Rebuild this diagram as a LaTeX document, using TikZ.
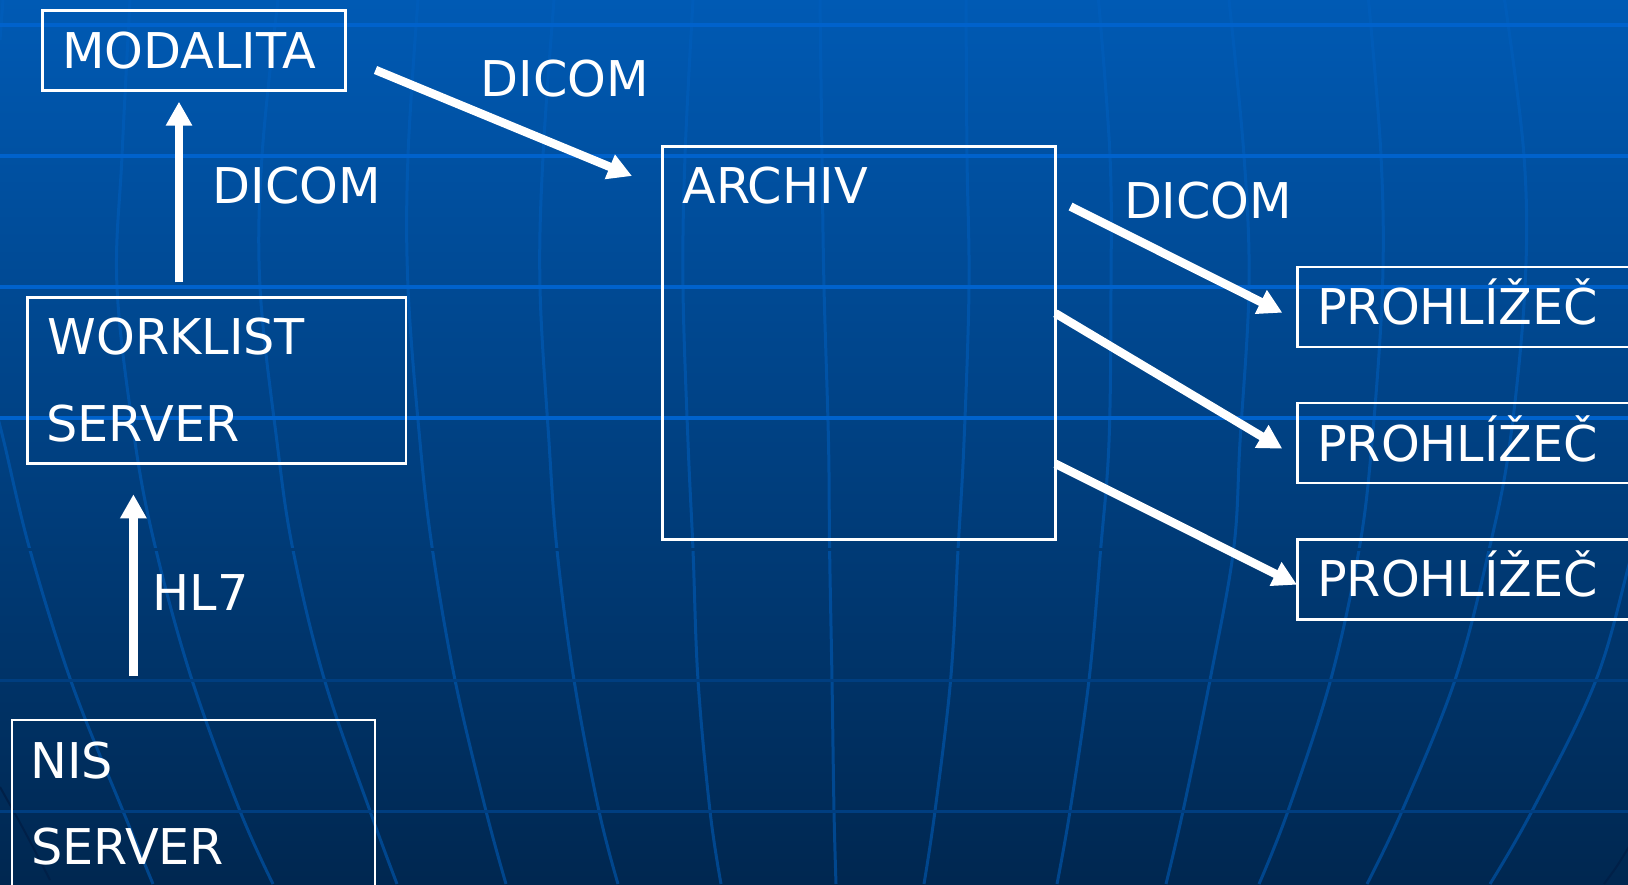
\documentclass[tikz,border=0pt]{standalone}
\usepackage{fontspec}
\setmainfont{DejaVu Sans}
\usetikzlibrary{arrows.meta}
\definecolor{bgtop}{HTML}{005AB4}
\definecolor{bgbot}{HTML}{002750}
\definecolor{seam}{HTML}{003A75}
\definecolor{gridhi}{HTML}{0062CC}
\definecolor{gridlo}{HTML}{003E80}
\definecolor{curve}{HTML}{005FBE}
\definecolor{darkcurve}{HTML}{002048}
\tikzset{
  hgridhi/.style={draw=gridhi,line width=3.4pt},
  hgridlo/.style={draw=gridlo,line width=3pt},
  vcurve/.style={draw=curve,line width=3pt,draw opacity=.55},
  fadecurve/.style={draw=darkcurve,line width=2pt},
  boxnode/.style={draw=white,line width=2.3pt,inner sep=0pt,outer sep=0pt,anchor=north west},
  labelnode/.style={text=white,inner sep=0pt,outer sep=0pt,anchor=base west,font=\fontsize{49.3}{59}\selectfont},
  bigarrow/.style={draw=white,line width=8.5pt,-{Triangle[length=24pt,width=25pt]}},
}
\begin{document}
\begin{tikzpicture}[x=1pt,y=-1pt]
\useasboundingbox (0,0) rectangle (1628,884);
\clip (0,0) rectangle (1628,884);
\shade[top color=bgtop,bottom color=bgbot] (0,0) rectangle (1628,884);
% curved meridians
\draw[vcurve] plot[smooth,tension=.6] coordinates {(3,0) (0,40)};
\draw[vcurve] plot[smooth,tension=.6] coordinates {(-3,415) (4,442) (30,550) (72,684) (123,811) (153,884)};
\draw[vcurve] plot[smooth,tension=.6] coordinates {(130,0) (122,156) (117,287) (135,442) (156,550) (192,680) (240,811) (273,884)};
\draw[vcurve] plot[smooth,tension=.6] coordinates {(278,0) (262,156) (260,287) (277,442) (293,550) (324.5,680) (370,811) (397,884)};
\draw[vcurve] plot[smooth,tension=.6] coordinates {(418,0) (408,156) (408,287) (420,442) (432.5,550) (455,680) (486,811) (506,884)};
\draw[vcurve] plot[smooth,tension=.6] coordinates {(554,0) (543,156) (540,287) (549,442) (557,550) (574,680) (599,811) (618,884)};
\draw[vcurve] plot[smooth,tension=.6] coordinates {(693,0) (685,156) (683,287) (688,442) (693,550) (698,680) (710,811) (721,884)};
\draw[vcurve] plot[smooth,tension=.6] coordinates {(820,0) (822,156) (824,287) (828.5,442) (829.6,550) (832,680) (834,811) (836,884)};
\draw[vcurve] plot[smooth,tension=.6] coordinates {(966,0) (967,156) (969,287) (964,442) (958,550) (950.6,680) (935,811) (924,884)};
\draw[vcurve] plot[smooth,tension=.6] coordinates {(1098.5,0) (1110,156) (1111,287) (1109,442) (1100.6,550) (1089,680) (1070,811) (1057,884)};
\draw[vcurve] plot[smooth,tension=.6] coordinates {(1229,0) (1244,156) (1249,287) (1240,442) (1233.5,550) (1210,680) (1183,811) (1166,884)};
\draw[vcurve] plot[smooth,tension=.6] coordinates {(1368.5,0) (1381,156) (1382.5,287) (1372,442) (1359,550) (1330.6,680) (1288,811) (1259,884)};
\draw[vcurve] plot[smooth,tension=.6] coordinates {(1504.6,0) (1524,156) (1525,287) (1510,442) (1489,550) (1455,680) (1402,811) (1367,884)};
\draw[vcurve] plot[smooth,tension=.6] coordinates {(1665,442) (1633,550) (1596,680) (1532,811) (1490,884)};
\draw[fadecurve] plot[smooth,tension=.6] coordinates {(0,787) (25,832) (50,880)};
\draw[fadecurve] plot[smooth,tension=.6] coordinates {(1630,845) (1617,866) (1604,884)};
% parallels
\draw[hgridhi] (0,25) -- (1628,25);
\draw[hgridhi] (0,156) -- (1628,156);
\draw[hgridhi] (0,287) -- (1628,287);
\draw[hgridhi] (0,418) -- (1628,418);
\draw[draw=seam,line width=3pt] (0,549.5) -- (1628,549.5);
\draw[hgridlo] (0,680) -- (1628,680);
\draw[hgridlo] (0,811) -- (1628,811);
% boxes
\node[boxnode,minimum width=303pt,minimum height=80pt] (mod) at (42.5,10.5) {};
\node[boxnode,minimum width=378.5pt,minimum height=166pt] (wl) at (27.5,297.5) {};
\node[boxnode,minimum width=393pt,minimum height=393pt] (arch) at (662.5,146.5) {};
\node[boxnode,minimum width=363pt,minimum height=240pt] (nis) at (12,720.2) {};
\node[boxnode,minimum width=400pt,minimum height=80pt] (p1) at (1297.5,267.3) {};
\node[boxnode,minimum width=400pt,minimum height=80pt] (p2) at (1297.5,403) {};
\node[boxnode,minimum width=400pt,minimum height=80pt] (p3) at (1297.5,539.5) {};
% labels
\node[labelnode] (tmod) at (62,68.3) {MODALITA};
\node[labelnode] (tdicoma) at (480.5,96) {DICOM};
\node[labelnode] (tdicomb) at (212.5,203.3) {DICOM};
\node[labelnode] (tarch) at (682.4,203.3) {ARCHIV};
\node[labelnode] (tdicomc) at (1124,218.3) {DICOM};
\node[labelnode] (twl) at (47.5,354.3) {WORKLIST};
\node[labelnode] (tsrva) at (46.5,441) {SERVER};
\node[labelnode] (thl) at (152.5,610.3) {HL7};
\node[labelnode] (tnis) at (30.5,778.7) {NIS};
\node[labelnode] (tsrvb) at (31,864.7) {SERVER};
\node[labelnode] (tpa) at (1317,324.3) {PROHLÍŽEČ};
\node[labelnode] (tpb) at (1317,461) {PROHLÍŽEČ};
\node[labelnode] (tpc) at (1317,596.3) {PROHLÍŽEČ};
% connector ends
\coordinate (aas) at (179,282.3);
\coordinate (aae) at (179,101.7);
\coordinate (abs) at (133.4,676);
\coordinate (abe) at (133.4,494.3);
\coordinate (acs) at (375.5,70);
\coordinate (ace) at (632,176);
\coordinate (ads) at (1070.5,206.5);
\coordinate (ade) at (1282.3,312.7);
\coordinate (aes) at (1055.4,313.3);
\coordinate (aee) at (1282.3,448.7);
\coordinate (afs) at (1055.4,463.7);
\coordinate (afe) at (1297,584.7);
\draw[bigarrow] (aas) -- (aae);
\draw[bigarrow] (abs) -- (abe);
\draw[bigarrow] (acs) -- (ace);
\draw[bigarrow] (ads) -- (ade);
\draw[bigarrow] (aes) -- (aee);
\draw[bigarrow] (afs) -- (afe);
\end{tikzpicture}
\end{document}
